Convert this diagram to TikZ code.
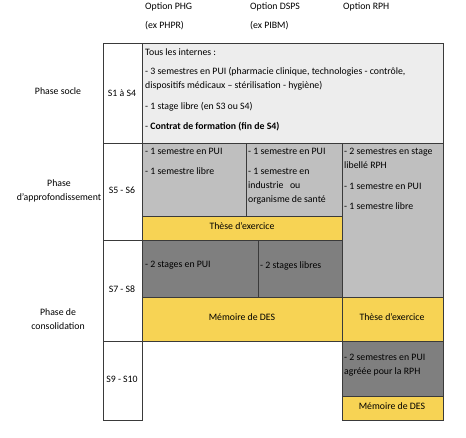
\documentclass[tikz,border=0pt]{standalone}
\usepackage{fontspec}
\setmainfont{Carlito}
\usepackage{xcolor}
\usepackage{tikz}
\usetikzlibrary{positioning}

\definecolor{soclegray}{HTML}{EDEDED}
\definecolor{midgray}{HTML}{BFBFBF}
\definecolor{deepgray}{HTML}{7F7F7F}
\definecolor{thesisyellow}{HTML}{F7D354}
\definecolor{rulegray}{HTML}{3A3A3A}

\begin{document}
\begin{tikzpicture}[x=1pt, y=-1pt,
    cell/.style={draw=rulegray, line width=0.8pt},
    txt/.style={anchor=north west, inner sep=0pt, align=left, font=\fontsize{9.8}{13.8}\selectfont},
    mid/.style={inner sep=0pt, align=center, font=\fontsize{9.8}{13.8}\selectfont}]
          \useasboundingbox (0,0) rectangle (466,437);

          % semester column
          \filldraw[cell, fill=white] (103,43) rectangle (142,143);
          \filldraw[cell, fill=white] (103,143) rectangle (142,240);
          \filldraw[cell, fill=white] (103,240) rectangle (142,341);
          \filldraw[cell, fill=white] (103,341) rectangle (142,420);

          % cells
          \filldraw[cell, fill=soclegray] (142,43) rectangle (443,143);
          \filldraw[cell, fill=midgray] (142,143) rectangle (246,216);
          \filldraw[cell, fill=midgray] (246,143) rectangle (342,216);
          \filldraw[cell, fill=midgray] (342,143) rectangle (443,297);
          \filldraw[cell, fill=thesisyellow] (142,216) rectangle (342,240);
          \filldraw[cell, fill=deepgray] (142,240) rectangle (258,297);
          \filldraw[cell, fill=deepgray] (258,240) rectangle (342,297);
          \filldraw[cell, fill=thesisyellow] (142,297) rectangle (342,341);
          \filldraw[cell, fill=thesisyellow] (342,297) rectangle (443,341);
          \filldraw[cell, fill=deepgray] (342,341) rectangle (443,396);
          \filldraw[cell, fill=thesisyellow] (342,396) rectangle (443,420);

          % headers
          \node[txt] (hdrphg) at (145,2.4) {Option PHG\\[5.2pt](ex PHPR)};
          \node[txt] (hdrdsps) at (250,2.4) {Option DSPS\\[5.2pt](ex PIBM)};
          \node[txt] (hdrrph) at (343,2.4) {Option RPH};

          % phases
          \node[mid] (phsocle) at (58,91) {Phase socle};
          \node[mid] (phappro) at (59,191) {Phase\\d’approfondissement};
          \node[mid] (phconso) at (58,319) {Phase de\\consolidation};

          % semesters
          \node[mid] (sem1) at (122,93) {S1 à S4};
          \node[mid] (sem5) at (122,190) {S5 - S6};
          \node[mid] (sem7) at (122,289) {S7 - S8};
          \node[mid] (sem9) at (122,379) {S9 - S10};

          % cell texts
          \node[txt] (socle) at (145,48.4) {Tous les internes :\\[5.2pt]
            - 3 semestres en PUI (pharmacie clinique, technologies - contrôle,\\
            dispositifs médicaux – stérilisation - hygiène)\\[7.2pt]
            - 1 stage libre (en S3 ou S4)\\[6.2pt]
            - \textbf{Contrat de formation (fin de S4)}};
          \node[txt] (phgappro) at (145,148.4) {- 1 semestre en PUI\\[6.2pt]- 1 semestre libre};
          \node[txt] (dspsappro) at (248,148.4) {- 1 semestre en PUI\\[6.2pt]- 1 semestre en\\industrie\ \ \ ou\\organisme de santé};
          \node[txt] (rphappro) at (344,148.4) {- 2 semestres en stage\\libellé RPH\\[7.2pt]- 1 semestre en PUI\\[6.2pt]- 1 semestre libre};
          \node[mid] (theseA) at (242,226.5) {Thèse d’exercice};
          \node[txt] (phgconso) at (145,261.4) {- 2 stages en PUI};
          \node[txt] (dspsconso) at (260,261.4) {- 2 stages libres};
          \node[mid] (memoireA) at (242,317) {Mémoire de DES};
          \node[mid] (theseB) at (392,317) {Thèse d’exercice};
          \node[txt] (rphconso) at (344,354.4) {- 2 semestres en PUI\\agréée pour la RPH};
          \node[mid] (memoireB) at (392,406) {Mémoire de DES};
        \end{tikzpicture}
\end{document}
